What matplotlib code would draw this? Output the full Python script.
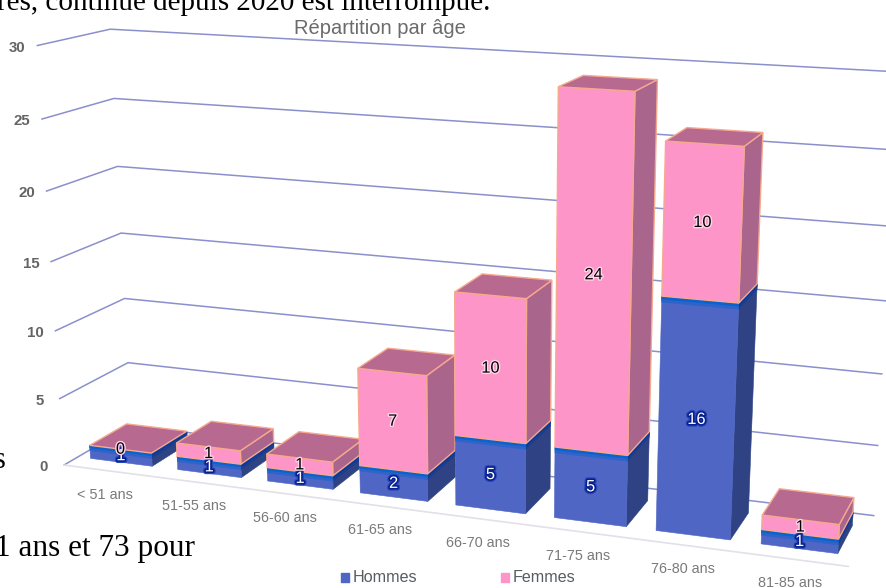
import numpy as np
import matplotlib
matplotlib.use('Agg')
import matplotlib.pyplot as plt
import matplotlib.patheffects as pe

categories = ['< 51 ans', '51-55 ans', '56-60 ans', '61-65 ans',
              '66-70 ans', '71-75 ans', '76-80 ans', '81-85 ans']
hommes = [1, 1, 1, 2, 5, 5, 16, 1]
femmes = [0, 1, 1, 7, 10, 24, 10, 1]
y_ticks = [0, 5, 10, 15, 20, 25, 30]

# perspective of the chart box: (category, value, depth) -> pixels
CAM = np.array([[85.49273, -0.9608571, 75.29828, 63.97102],
                [4.289807, -14.07349, -13.62442, 465.0669],
                [-0.0147898, -0.001949702, 0.0604794, 1.0]])
GAP, Z0, Z1 = 0.145, 0.2, 0.75

C_H, C_H_SIDE, C_H_BAND, C_H_BAND_SIDE = '#4f66c4', '#2f4384', '#0a62cf', '#0b3a96'
C_H_BAND2, C_H_BAND2_SIDE = '#2e64ca', '#1d3e8d'
C_F, C_F_SIDE, C_F_TOP, C_F_EDGE = '#fd95c9', '#a9658c', '#b7698f', '#f6a98f'
C_GRID = '#8a90cc'


def proj(x, v, z):
    u = CAM @ np.array([x, v, z, 1.0])
    return u[0] / u[2], u[1] / u[2]


def face(ax, corners, color, edge=None, zo=3):
    ax.fill(*zip(*[proj(*c) for c in corners]), facecolor=color,
            edgecolor=edge if edge else color, lw=1.0 if edge else 0.4, zorder=zo)


def box(ax, i, v0, v1, front, side, edge=None):
    xl, xr = i + GAP, i + 1 - GAP
    face(ax, [(xr, v0, Z0), (xr, v0, Z1), (xr, v1, Z1), (xr, v1, Z0)], side, edge)
    face(ax, [(xl, v0, Z0), (xr, v0, Z0), (xr, v1, Z0), (xl, v1, Z0)], front, edge)


def top(ax, i, v):
    xl, xr = i + GAP, i + 1 - GAP
    face(ax, [(xl, v, Z0), (xr, v, Z0), (xr, v, Z1), (xl, v, Z1)], C_F_TOP, C_F_EDGE)


fig = plt.figure(figsize=(8.86, 5.88), dpi=100)
ax = fig.add_axes([0, 0, 1, 1])
ax.set_xlim(0, 886)
ax.set_ylim(588, 0)
ax.axis('off')

# walls
for v in y_ticks:
    line = [proj(0, v, 0), proj(0, v, 1), proj(8, v, 1)]
    ax.plot(*zip(*line), color=C_GRID, lw=1.1, zorder=1)
    px, py = proj(0, v, 0)
    ax.text(px - 20, py + 2, str(v), ha='center', va='center', fontsize=10.8,
            fontweight='bold', color='#646464', family='Liberation Sans')
ax.plot(*zip(proj(0, 0, 0), proj(8, 0, 0)), color='#e2e0e8', lw=1.2, zorder=1)

# bars
for i, (h, f) in enumerate(zip(hommes, femmes)):
    box(ax, i, 0, h, C_H, C_H_SIDE)
    box(ax, i, h - 0.4, h, C_H_BAND2, C_H_BAND2_SIDE)
    box(ax, i, h - 0.2, h, C_H_BAND, C_H_BAND_SIDE)
    if f > 0:
        box(ax, i, h, h + f, C_F, C_F_SIDE, C_F_EDGE)
    top(ax, i, h + f)

    px, py = proj(i + 0.5, h / 2, Z0)
    ax.text(px, py, str(h), ha='center', va='center', fontsize=11.8, color='white',
            family='Liberation Sans', zorder=6,
            path_effects=[pe.withStroke(linewidth=4, foreground='#2a49b8'),
                          pe.withStroke(linewidth=2.4, foreground='#08208f')])
    px, py = proj(i + 0.5, h + f / 2, Z0)
    ax.text(px, py, str(f), ha='center', va='center', fontsize=11.8, color='black',
            family='Liberation Sans', zorder=6,
            path_effects=[pe.withStroke(linewidth=2, foreground='#ffd5ea')])

    px, py = proj(i + 0.5, 0, 0)
    ax.text(px - 3, py + 24, categories[i], ha='center', va='center', fontsize=10.4,
            color='#7a7a7a', family='Liberation Sans')

ax.text(380, 28, 'Répartition par âge', ha='center', va='center', fontsize=14.5,
        color='#6b6b6b', family='Liberation Sans')

# legend
for x, color, name in [(345, C_H, 'Hommes'), (505, C_F, 'Femmes')]:
    ax.fill([x - 4, x + 4, x + 4, x - 4], [573, 573, 582, 582], color=color, zorder=5)
    ax.text(x + 8, 577, name, ha='left', va='center', fontsize=11.6,
            color='#565c60', family='Liberation Sans')

# bits of the surrounding page text
ax.text(-3, 10, 'res, continue depuis 2020 est interrompue.', ha='left', va='baseline',
        fontsize=21, color='black', family='Liberation Serif', clip_on=True)
ax.text(-5, 556, '1 ans et 73 pour', ha='left', va='baseline', fontsize=22.5,
        color='black', family='Liberation Serif', clip_on=True)
ax.text(-6, 468, 's', ha='left', va='baseline', fontsize=22, color='black',
        family='Liberation Serif', clip_on=True)

fig.savefig('out.png', dpi=100)
